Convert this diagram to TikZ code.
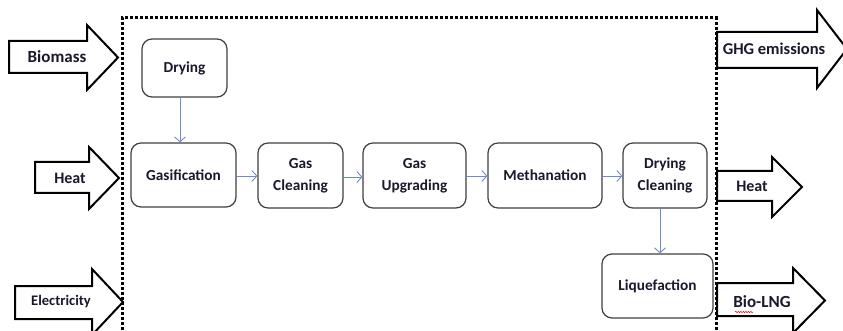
\documentclass[tikz,border=0pt]{standalone}
\usepackage{fontspec}
\setmainfont{Carlito}
\usetikzlibrary{arrows.meta,decorations.pathmorphing}
\definecolor{arrowblue}{RGB}{112,140,200}
\definecolor{txt}{RGB}{25,25,45}
\begin{document}
\begin{tikzpicture}[x=1pt,y=-1pt,
  proc/.style={draw=black!75, line width=1.2pt, rounded corners=10pt, fill=white,
    font=\fontsize{15.3}{22}\selectfont\bfseries, text=txt, align=center, inner sep=0pt},
  lbl/.style={font=\bfseries, text=txt, inner sep=0pt},
  flow/.style={draw=arrowblue, line width=0.9pt, -{Straight Barb[length=5pt,width=11pt]}},
  bigarrow/.style={draw=black, line width=2pt, fill=white, line join=miter},
  boundary/.style={line width=3pt, dash pattern=on 2.6pt off 2.4pt}]
\clip (0,0) rectangle (843,331);
\fill[white] (0,0) rectangle (843,331);
% system boundary
\draw[boundary] (122,340) -- (122,18) -- (716,18) -- (716,340);
% process boxes
\node[proc, minimum width=85pt, minimum height=58pt] (drying) at (184.5,68) {Drying};
\node[proc, minimum width=105pt, minimum height=64pt] (gasif) at (183.5,175) {Gasification};
\node[proc, minimum width=85pt, minimum height=65pt] (gascl) at (300.5,175.5) {Gas\\Cleaning};
\node[proc, minimum width=103pt, minimum height=65pt] (gasup) at (414.5,175.5) {Gas\\Upgrading};
\node[proc, minimum width=114pt, minimum height=65pt] (meth) at (545,175.5) {Methanation};
\node[proc, minimum width=84pt, minimum height=65pt] (drycl) at (665,175.5) {Drying\\Cleaning};
\node[proc, minimum width=111pt, minimum height=64pt] (liq) at (657.5,286) {Liquefaction};
% flow arrows
\draw[flow] (drying.south -| 180,0) -- (gasif.north -| 180,0);
\draw[flow] (gasif.east |- 0,176) -- (gascl.west |- 0,176);
\draw[flow] (gascl.east |- 0,177) -- (gasup.west |- 0,177);
\draw[flow] (gasup.east |- 0,176) -- (meth.west |- 0,176);
\draw[flow] (meth.east |- 0,176) -- (drycl.west |- 0,176);
\draw[flow] (drycl.south -| 660,0) -- (liq.north -| 660,0);
% inputs
\draw[bigarrow] (9,41) -- (87,41) -- (87,25) -- (118,57.5) -- (87,90) -- (87,73) -- (9,73) -- cycle;
\node[lbl, font=\fontsize{17}{20}\selectfont\bfseries] (biomass) at (57,57) {Biomass};
\draw[bigarrow] (35,162) -- (89,162) -- (89,147) -- (119,178) -- (89,209) -- (89,193) -- (35,193) -- cycle;
\node[lbl, font=\fontsize{16}{20}\selectfont\bfseries] (heatin) at (70,178) {Heat};
\draw[bigarrow] (15,286) -- (92,286) -- (92,269) -- (123,302) -- (92,335) -- (92,319) -- (15,319) -- cycle;
\node[lbl, font=\fontsize{14.6}{18}\selectfont\bfseries] (elec) at (61,302) {Electricity};
% outputs
\draw[bigarrow] (717,32) -- (817,32) -- (817,10) -- (847,49) -- (817,88) -- (817,68) -- (717,68) -- cycle;
\node[lbl, font=\fontsize{16.5}{20}\selectfont\bfseries] (ghg) at (774,49) {GHG emissions};
\draw[bigarrow] (717,171) -- (772,171) -- (772,157) -- (802,187) -- (772,217) -- (772,201) -- (717,201) -- cycle;
\node[lbl, font=\fontsize{16}{20}\selectfont\bfseries] (heatout) at (752,186) {Heat};
\draw[bigarrow] (717,283) -- (793,283) -- (793,268) -- (825,300.5) -- (793,333) -- (793,316) -- (717,316) -- cycle;
\node[lbl, font=\fontsize{17}{20}\selectfont\bfseries] (biolng) at (762,302) {Bio-LNG};
\draw[red, line width=0.5pt, decorate, decoration={snake, amplitude=0.7pt, segment length=2.5pt}] (735,312) -- (753,312);
\end{tikzpicture}
\end{document}
